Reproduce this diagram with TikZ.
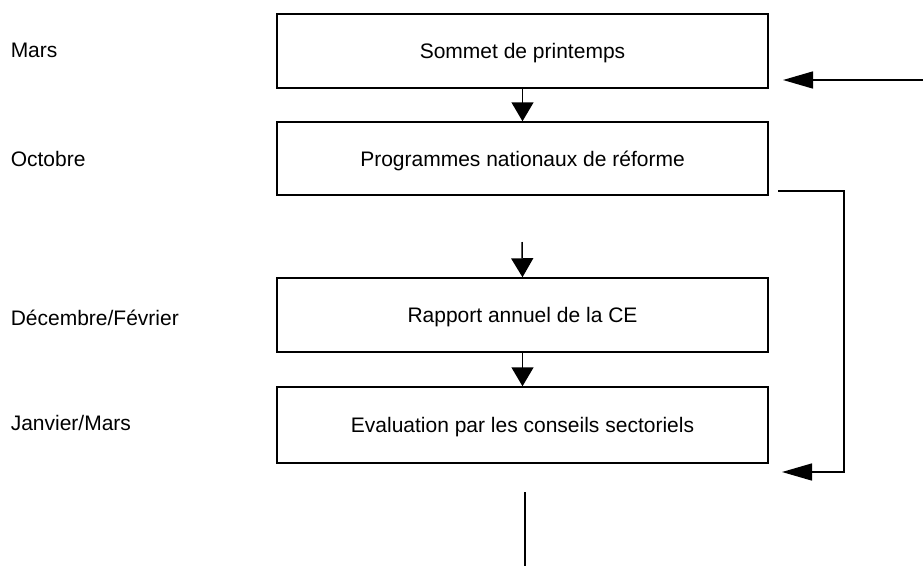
\documentclass[tikz,border=0pt]{standalone}
\usepackage{fontspec}
\setmainfont{Liberation Sans}
\usetikzlibrary{arrows.meta}
\begin{document}
\begin{tikzpicture}[x=1pt,y=-1pt,
  line width=1.5pt,
  stagebox/.style={draw, rectangle, inner sep=0pt, minimum width=491pt,
    text height=15pt, text depth=0pt,
    font=\fontsize{21}{25}\selectfont},
  month/.style={anchor=base west, inner sep=0pt, font=\fontsize{21}{25}\selectfont},
  downarrow/.style={-{Triangle[length=19pt,width=22pt]}},
  sidearrow/.style={-{Triangle[length=30pt,width=17pt]}}]
  \useasboundingbox (0,0) rectangle (923,566);

  % stage boxes
  \node[stagebox, minimum height=74pt] (sommet) at (522.5,51) {Sommet de printemps};
  \node[stagebox, minimum height=73pt] (pnr) at (522.5,158.5) {Programmes nationaux de réforme};
  \node[stagebox, minimum height=74pt] (rapport) at (522.5,315) {Rapport annuel de la CE};
  \node[stagebox, minimum height=76pt] (eval) at (522.5,425) {Evaluation par les conseils sectoriels};

  % month labels
  \node[month] (mars) at (10,57) {Mars};
  \node[month] (octobre) at (10,166) {Octobre};
  \node[month] (decfev) at (10,325) {Décembre/Février};
  \node[month] (janmars) at (10,430) {Janvier/Mars};

  % free ends of connectors
  \coordinate (rapin) at (522,242);
  \coordinate (inR) at (923,80);
  \coordinate (inL) at (783,80);
  \coordinate (fbstart) at (778,191);
  \coordinate (fbturn) at (844,191);
  \coordinate (fbdown) at (844,472);
  \coordinate (fbend) at (782,472);
  \coordinate (outtop) at (525,492);
  \coordinate (outbot) at (525,566);

  % flow
  \draw[downarrow] (sommet.south) -- (pnr.north);
  \draw[downarrow] (rapin) -- (rapport.north);
  \draw[downarrow] (rapport.south) -- (eval.north);

  % incoming and feedback arrows
  \draw[sidearrow] (inR) -- (inL);
  \draw[sidearrow] (fbstart) -- (fbturn) -- (fbdown) -- (fbend);

  % outgoing line
  \draw (outtop) -- (outbot);
\end{tikzpicture}
\end{document}
